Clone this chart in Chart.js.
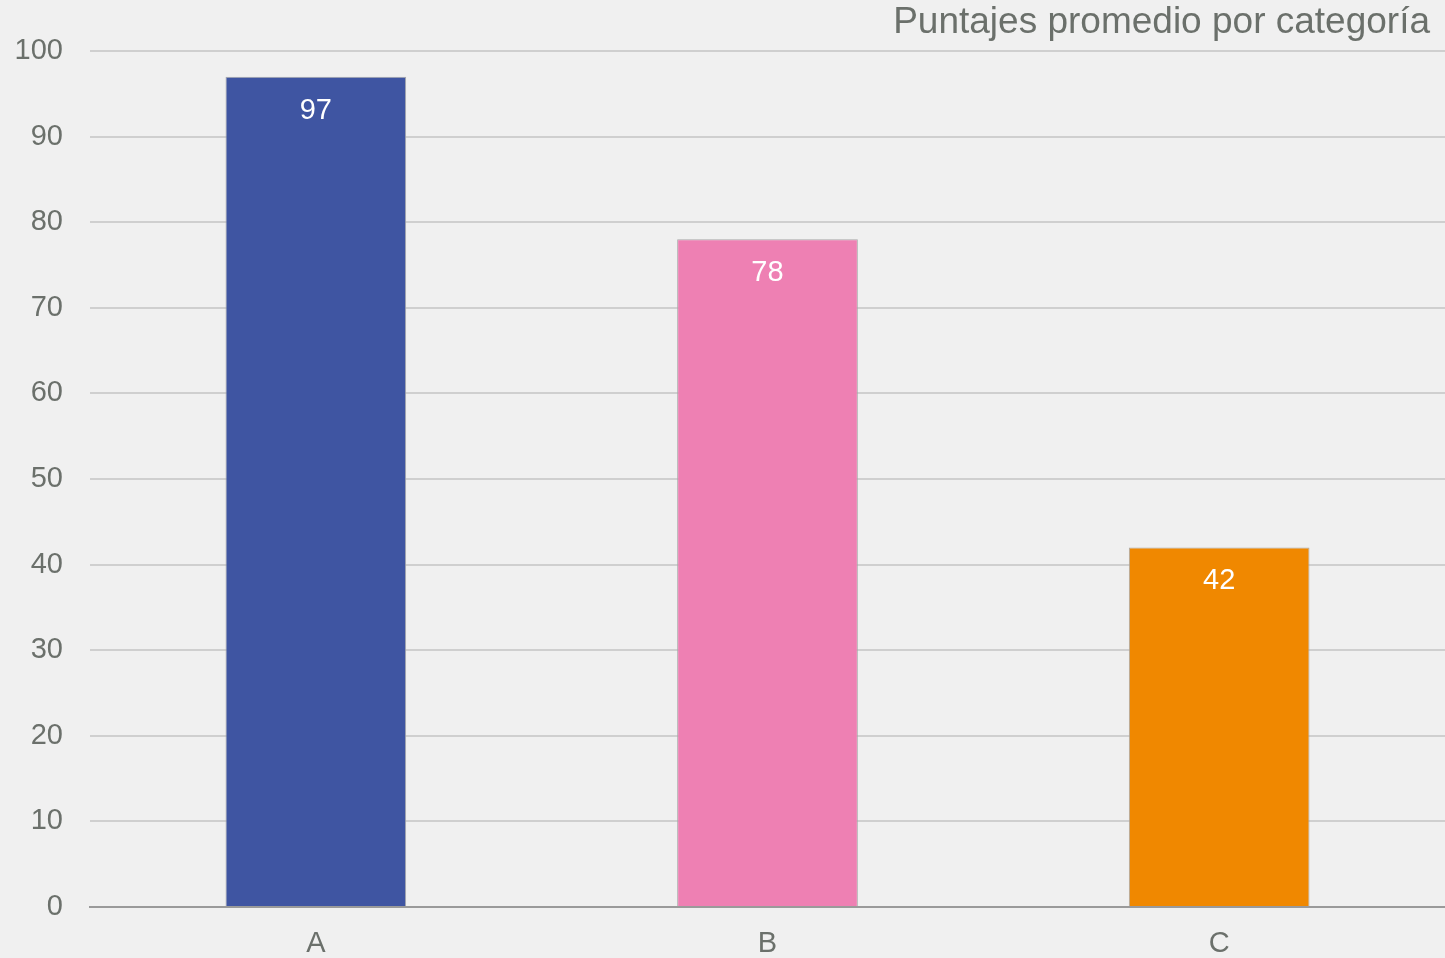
<!DOCTYPE html>
<html>
<head>
<meta charset="utf-8">
<script src="https://cdn.jsdelivr.net/npm/chart.js@4"></script>
<style>
  html, body { margin: 0; padding: 0; background: #f0f0f0; }
  #wrap { width: 1445px; height: 958px; }
</style>
</head>
<body>
<div id="wrap"><canvas id="chart"></canvas></div>
<script>
const categories = ['A', 'B', 'C'];
const scores = [97, 78, 42];
const barColors = ['#3f55a2', '#ee80b3', '#f08800'];
const yTicks = [0, 10, 20, 30, 40, 50, 60, 70, 80, 90, 100];
const chartTitle = 'Puntajes promedio por categoría';

const textGray = '#6b706b';
const fontFamily = '"Liberation Sans", Arial, sans-serif';

// draws the value inside the top of each bar
const valueLabels = {
    id: 'valueLabels',
    afterDatasetsDraw(chart) {
        const ctx = chart.ctx;
        const meta = chart.getDatasetMeta(0);
        ctx.save();
        ctx.font = '29px ' + fontFamily;
        ctx.fillStyle = '#ffffff';
        ctx.textAlign = 'center';
        ctx.textBaseline = 'middle';
        meta.data.forEach((bar, i) => {
            ctx.fillText(String(scores[i]), bar.x, bar.y + 34);
        });
        ctx.restore();
    }
};

// title sits at the top right, a bit in from the edge
const cornerTitle = {
    id: 'cornerTitle',
    afterDraw(chart) {
        const ctx = chart.ctx;
        ctx.save();
        ctx.font = '37px ' + fontFamily;
        ctx.fillStyle = textGray;
        ctx.textAlign = 'right';
        ctx.textBaseline = 'middle';
        ctx.fillText(chartTitle, chart.width - 15, 23);
        ctx.restore();
    }
};

const ctx = document.getElementById('chart').getContext('2d');
new Chart(ctx, {
    type: 'bar',
    data: {
        labels: categories,
        datasets: [{
            data: scores,
            backgroundColor: barColors,
            borderColor: '#a8a8a8',
            borderWidth: 1,
            barPercentage: 0.4,
            categoryPercentage: 1.0
        }]
    },
    options: {
        responsive: true,
        maintainAspectRatio: false,
        animation: false,
        layout: {
            padding: { top: 51, left: 0, right: 0, bottom: 0 }
        },
        plugins: {
            legend: { display: false },
            title: { display: false },
            tooltip: { enabled: false }
        },
        scales: {
            x: {
                afterFit(scale) {
                    scale.height = 51;
                },
                grid: { display: false, drawTicks: false },
                border: { display: true, color: '#9a9a9a', width: 2 },
                ticks: {
                    color: textGray,
                    padding: 20,
                    font: { size: 29, family: fontFamily }
                }
            },
            y: {
                min: 0,
                max: 100,
                afterBuildTicks(scale) {
                    scale.ticks = yTicks.map(v => ({ value: v }));
                },
                afterFit(scale) {
                    scale.width = 90;
                },
                grid: { color: '#cfcfcf', lineWidth: 2, drawTicks: false },
                border: { display: false },
                ticks: {
                    color: textGray,
                    padding: 27,
                    font: { size: 29, family: fontFamily }
                }
            }
        }
    },
    plugins: [valueLabels, cornerTitle]
});
</script>
</body>
</html>
